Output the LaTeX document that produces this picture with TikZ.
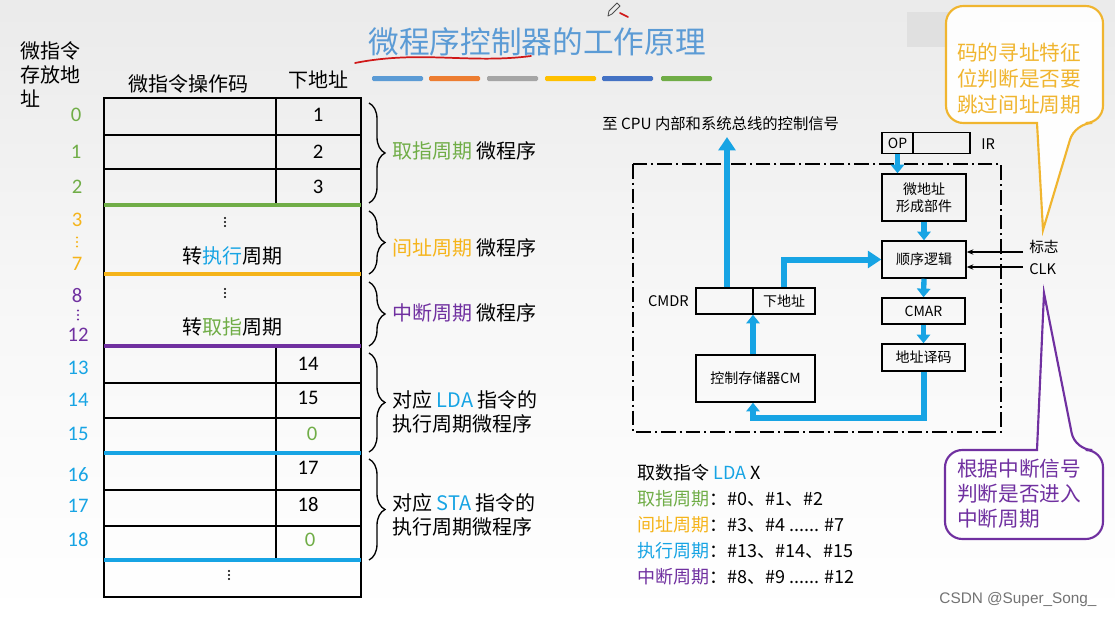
\documentclass[tikz,border=0pt]{standalone}
\usepackage{fontspec}
\setmainfont{Noto Sans CJK SC}
\newfontfamily\lat{Carlito}
\newfontfamily\wmfont{Liberation Sans}
\usetikzlibrary{arrows.meta,decorations.pathreplacing,calc}
\definecolor{cgreen}{HTML}{70AD47}
\definecolor{corange}{HTML}{F5B41A}
\definecolor{cpurple}{HTML}{7030A0}
\definecolor{cblue}{HTML}{17A4E4}
\definecolor{ctitle}{HTML}{5B9BD5}
\definecolor{cyell}{HTML}{F0B52F}
\definecolor{bar1}{HTML}{5B9BD5}
\definecolor{bar2}{HTML}{ED7D31}
\definecolor{bar3}{HTML}{A5A5A5}
\definecolor{bar4}{HTML}{FFC000}
\definecolor{bar5}{HTML}{4472C4}
\definecolor{bar6}{HTML}{70AD47}
\definecolor{penred}{HTML}{D01818}
\newcommand\mydots[4]{\foreach \dd in {-#4,0,#4} \fill[#3] ({#1},{#2+\dd}) circle[radius=0.9pt];}
\tikzset{
  tbl/.style={line width=1.5pt},
  sepline/.style={line width=3.6pt},
  num/.style={font=\lat\fontsize{15.5}{18}\selectfont, inner sep=0pt},
  lbl/.style={font=\fontsize{15}{18}\selectfont, inner sep=0pt},
  brc/.style={decorate, decoration={brace, amplitude=12pt}, line width=1pt},
  box/.style={draw, line width=1.1pt, inner sep=0pt, font=\fontsize{10.5}{13}\selectfont, align=center},
  small/.style={font=\fontsize{11}{13}\selectfont, inner sep=0pt},
  flow/.style={draw=cblue, line width=4pt, -{Triangle[width=10pt,length=6.5pt]}},
  bigflow/.style={draw=cblue, line width=4.8pt, -{Triangle[width=12.5pt,length=10pt]}},
  thinarrow/.style={line width=0.8pt, -{Stealth[width=4pt,length=5pt]}}
}
\begin{document}
\begin{tikzpicture}[x=0.75pt,y=-0.75pt]
\useasboundingbox (0,0) rectangle (1115,618);
\shade[top color=black!8, bottom color=white, middle color=black!3] (0,0) rectangle (1115,618);

% title
\node[font=\fontsize{23}{26}\selectfont, text=ctitle, inner sep=0pt] (title) at (537,42) {微程序控制器的工作原理};
\draw[penred, line width=1.3pt, line cap=round] (355,63) .. controls (420,50) and (470,64) .. (531,56);
\draw[penred, line width=1.3pt, line cap=round] (620,13) -- (628,17);
\draw[gray!60!black, line width=0.6pt, line join=round] (608,16) -- (609,11) -- (617,3) -- (620,6) -- (612,14) -- cycle;
\foreach \x/\c in {372/bar1,429/bar2,487/bar3,545/bar4,602/bar5,661/bar6}
  \fill[\c, rounded corners=1pt] (\x,76) rectangle ++(51,5);

% left header
\node[lbl, align=left, anchor=west] (addrhead) at (20,74) {微指令\\存放地\\址};
\node[lbl] (hop) at (188,84) {微指令操作码};
\node[lbl] (hnext) at (318,80) {下地址};

% table
\draw[tbl] (104,98) rectangle (361,597);
\foreach \y in {135,169,383,418,490,526} \draw[tbl] (104,\y) -- (361,\y);
\draw[tbl] (276,98) -- (276,205);
\draw[tbl] (276,346) -- (276,560);
\draw[sepline, cgreen] (104,205) -- (361,205);
\draw[sepline, corange] (104,274) -- (361,274);
\draw[sepline, cpurple] (104,346) -- (361,346);
\draw[sepline, cblue] (104,453) -- (361,453);
\draw[sepline, cblue] (104,560) -- (361,560);

% cell contents
\node[num] (n0) at (318,115) {1};
\node[num] (n1) at (318,152) {2};
\node[num] (n2) at (318,187) {3};
\mydots{225}{222}{black}{4}
\node[lbl] (zx1) at (232,256) {转{\color{cblue}执行}周期};
\mydots{225}{293}{black}{4}
\node[lbl] (zx2) at (232,327) {转{\color{cgreen}取指}周期};
\node[num] (n13) at (308,364) {14};
\node[num] (n14) at (308,398) {15};
\node[num, text=cgreen] (n15) at (312,434) {0};
\node[num] (n16) at (308,468) {17};
\node[num] (n17) at (308,505) {18};
\node[num, text=cgreen] (n18) at (310,540) {0};
\mydots{229}{575}{black}{4}

% addresses
\node[num, text=cgreen] (a0) at (76,115) {0};
\node[num, text=cgreen] (a1) at (76,152) {1};
\node[num, text=cgreen] (a2) at (77,187) {2};
\node[num, text=corange] (a3) at (77,220) {3};
\mydots{77}{242}{corange}{4.5}
\node[num, text=corange] (a7) at (77,264) {7};
\node[num, text=cpurple] (a8) at (77,296) {8};
\mydots{78}{315}{cpurple}{4.5}
\node[num, text=cpurple] (a12) at (78,335) {12};
\node[num, text=cblue] (a13) at (78,368) {13};
\node[num, text=cblue] (a14) at (78,400) {14};
\node[num, text=cblue] (a15) at (78,434) {15};
\node[num, text=cblue] (a16) at (78,475) {16};
\node[num, text=cblue] (a17) at (78,506) {17};
\node[num, text=cblue] (a18) at (78,540) {18};

% braces
\draw[brc] (369,103) -- (369,203);
\draw[brc] (369,211) -- (369,274);
\draw[brc] (369,282) -- (369,346);
\draw[brc] (369,353) -- (369,452);
\draw[brc] (369,459) -- (369,560);
\node[lbl, anchor=west] (b1) at (392,151) {{\color{cgreen}取指周期} 微程序};
\node[lbl, anchor=west] (b2) at (392,248) {{\color{corange}间址周期} 微程序};
\node[lbl, anchor=west] (b3) at (392,313) {{\color{cpurple}中断周期} 微程序};
\node[lbl, anchor=west, align=left, font=\fontsize{15}{18.5}\selectfont] (b4) at (392,412) {对应 {\color{cblue}LDA} 指令的\\执行周期微程序};
\node[lbl, anchor=west, align=left, font=\fontsize{15}{18.5}\selectfont] (b5) at (392,515) {对应 {\color{cblue}STA} 指令的\\执行周期微程序};

% right diagram
\draw[line width=1.1pt, dash pattern=on 11pt off 3pt on 1.5pt off 3pt] (633,164) rectangle (1001,432);
\node[small, anchor=west, font=\fontsize{11.5}{13}\selectfont] (cpu) at (602,124) {至 CPU 内部和系统总线的控制信号};
\coordinate (uptip) at (727,137);

\node[box, minimum width=23.25pt, minimum height=15.75pt] (op) at (897.5,143) {OP};
\node[box, minimum width=42.75pt, minimum height=15.75pt] (irr) at (941.5,143) {};
\node[small, anchor=west] (irl) at (981,144) {IR};
\node[box, minimum width=63pt, minimum height=35.25pt] (wdz) at (924,197.5) {微地址\\形成部件};
\node[box, minimum width=63pt, minimum height=27.75pt] (sx) at (924,259.5) {顺序逻辑};
\node[box, minimum width=62.25pt, minimum height=19.5pt] (cmar) at (923.5,311) {CMAR};
\node[box, minimum width=62.25pt, minimum height=20.25pt] (dzym) at (923.5,357.5) {地址译码};
\node[box, minimum width=42.75pt, minimum height=19.5pt] (cmdrl) at (724.5,301) {};
\node[box, minimum width=46.5pt, minimum height=19.5pt] (cmdrr) at (784,301) {下地址};
\node[small, anchor=east] (cmdrlbl) at (689,301) {CMDR};
\node[box, minimum width=89.25pt, minimum height=35.25pt] (cm) at (755.5,378.5) {控制存储器CM};

\draw[bigflow] (cmdrl.north -| uptip) -- (uptip);
\draw[flow, line width=4.5pt, -{Triangle[width=12.5pt,length=10pt]}] (cmdrr.north) |- (sx.west);
\draw[flow] (op.south) -- (op.south |- wdz.north);
\draw[flow] (wdz.south) -- (sx.north);
\draw[flow] (sx.south) -- (cmar.north);
\draw[flow] (cmar.south) -- (dzym.north);
\coordinate (yb) at (0,418);
\coordinate (cmx) at (753,0);
\draw[flow, line width=4.5pt] (dzym.south) -- (dzym.south |- yb) -- (cmx |- yb) -- (cmx |- cm.south);
\draw[flow] (cmx |- cm.north) -- (cmx |- cmdrl.south);

\coordinate (f1) at (1023,252);
\coordinate (f2) at (1023,267);
\draw[thinarrow] (f1) -- (f1 -| sx.east);
\draw[thinarrow] (f2) -- (f2 -| sx.east);
\node[small, anchor=west] (flag) at (1029,247) {标志};
\node[small, anchor=west] (clk) at (1029,269) {CLK};

% callouts
\fill[black!12] (907,12) rectangle (1000,47);
\draw[cyell, line width=1.6pt, fill=white, fill opacity=0.95] (990,123) [rounded corners=13pt] -- (946,123) -- (946,6) -- (1103,6) -- (1103,123) -- (1075,123) [sharp corners] -- (1043,230) -- (1037,123) -- cycle;
\node[anchor=west, align=left, text=cyell, font=\fontsize{15.5}{19.5}\selectfont, inner sep=0pt] (ytext) at (957,79) {码的寻址特征\\位判断是否要\\跳过间址周期};

\draw[cpurple, line width=1.6pt, fill=white, fill opacity=0.95] (990,450) [rounded corners=13pt] -- (945,450) -- (945,539) -- (1103,539) -- (1103,450) -- (1075,450) [sharp corners] -- (1044,293) -- (1037,450) -- cycle;
\node[anchor=west, align=left, text=cpurple, font=\fontsize{15.5}{18.75}\selectfont, inner sep=0pt] (ptext) at (957,494) {根据中断信号\\判断是否进入\\中断周期};

% bottom text block
\node[anchor=west, align=left, font=\fontsize{13.5}{19.5}\selectfont, inner sep=0pt] (lda) at (637,525)
 {取数指令 {\color{cblue}LDA} X\\
  {\color{cgreen}取指周期}：\#0、\#1、\#2\\
  {\color{corange}间址周期}：\#3、\#4 ...... \#7\\
  {\color{cblue}执行周期}：\#13、\#14、\#15\\
  {\color{cpurple}中断周期}：\#8、\#9 ...... \#12};

\node[text=black!55, font=\wmfont\fontsize{11.5}{13}\selectfont, inner sep=0pt] (wm) at (1018,600) {CSDN @Super\_Song\_};
\end{tikzpicture}
\end{document}
